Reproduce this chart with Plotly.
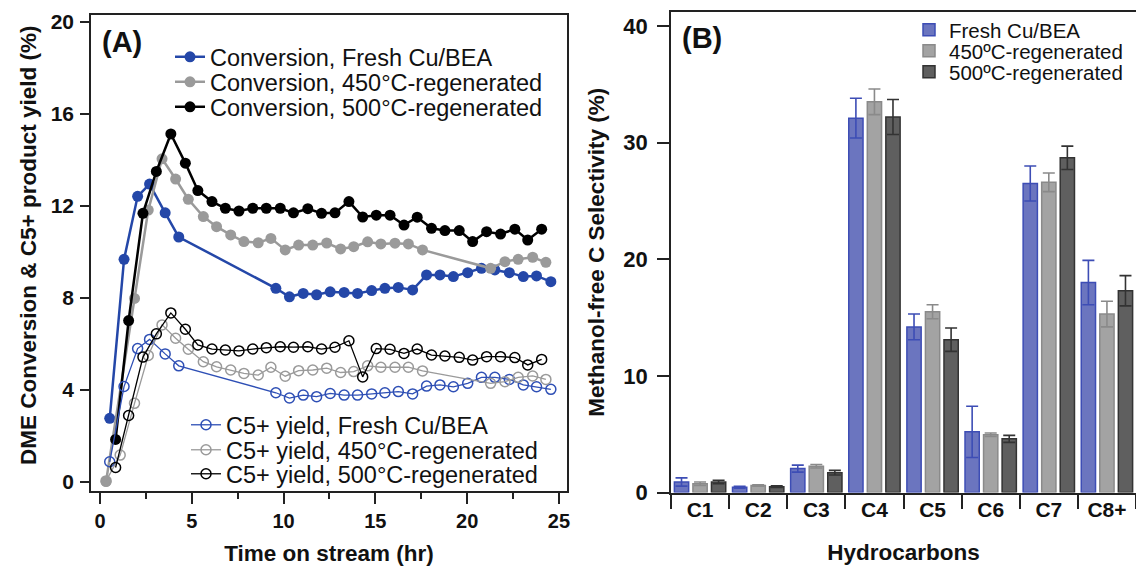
import plotly.graph_objects as go

W, H = 1136, 568
FONT = "Liberation Sans, Arial, Helvetica, sans-serif"

# ---------------- Panel A data ----------------
t_fresh = [0.53, 1.31, 2.05, 2.70, 3.55, 4.29, 9.58, 10.32, 11.07, 11.80, 12.54, 13.30, 14.03,
           14.80, 15.52, 16.25, 17.03, 17.79, 18.52, 19.25, 20.03, 20.78, 21.51, 22.30, 23.06,
           23.78, 24.56]
conv_fresh = [2.77, 9.68, 12.42, 12.95, 11.70, 10.65, 8.42, 8.05, 8.20, 8.14, 8.27, 8.24, 8.20,
              8.32, 8.42, 8.46, 8.35, 9.00, 9.00, 8.93, 9.10, 9.29, 9.22, 9.10, 8.93, 8.96, 8.71]
c5_fresh = [0.88, 4.15, 5.80, 6.20, 5.57, 5.05, 3.88, 3.65, 3.78, 3.71, 3.85, 3.78, 3.78,
            3.83, 3.88, 3.93, 3.83, 4.17, 4.22, 4.14, 4.29, 4.55, 4.55, 4.46, 4.22, 4.14, 4.03]

t_450 = [0.33, 1.10, 1.88, 2.63, 3.38, 4.12, 4.81, 5.63, 6.35, 7.12, 7.84, 8.62, 9.31, 10.09,
         10.82, 11.59, 12.35, 13.11, 13.82, 14.58, 15.30, 16.07, 16.80, 17.57, 21.28, 22.06,
         22.78, 23.57, 24.29]
conv_450 = [0.02, None, 7.98, 11.82, 14.05, 13.17, 12.29, 11.54, 11.10, 10.74, 10.45, 10.40,
            10.59, 10.09, 10.30, 10.30, 10.39, 10.13, 10.23, 10.44, 10.35, 10.38, 10.35, 10.09,
            9.29, 9.58, 9.68, 9.77, 9.55]
c5_450 = [0.05, 1.17, 3.42, 5.50, 6.83, 6.25, 5.77, 5.23, 5.01, 4.87, 4.72, 4.65, 4.99, 4.60,
          4.84, 4.87, 4.95, 4.76, 4.80, 5.05, 4.99, 4.99, 4.99, 4.83, 4.29, 4.36, 4.55, 4.61, 4.46]

t_500 = [0.85, 1.56, 2.34, 3.07, 3.86, 4.65, 5.33, 6.10, 6.83, 7.57, 8.32, 9.06, 9.82, 10.54,
         11.32, 12.07, 12.80, 13.56, 14.31, 15.05, 15.80, 16.56, 17.28, 18.06, 18.79, 19.57,
         20.30, 21.06, 21.82, 22.60, 23.30, 24.06]
conv_500 = [1.85, 7.02, 11.68, 13.50, 15.13, 13.86, 12.67, 12.19, 11.90, 11.78, 11.90, 11.90,
            11.90, 11.70, 11.88, 11.68, 11.70, 12.19, 11.52, 11.60, 11.60, 11.17, 11.51, 11.03,
            10.93, 10.93, 10.45, 10.88, 10.78, 10.99, 10.52, 10.99]
c5_500 = [0.63, 2.89, 5.43, 6.44, 7.35, 6.64, 5.96, 5.78, 5.74, 5.70, 5.78, 5.84, 5.88, 5.86,
          5.88, 5.78, 5.86, 6.14, 4.57, 5.80, 5.77, 5.59, 5.78, 5.52, 5.48, 5.42, 5.30, 5.45,
          5.45, 5.41, 5.09, 5.33]

# ---------------- Panel B data ----------------
cats = ["C1", "C2", "C3", "C4", "C5", "C6", "C7", "C8+"]
sel_fresh = [0.90, 0.45, 2.05, 32.1, 14.2, 5.2, 26.5, 18.0]
err_fresh = [0.35, 0.08, 0.30, 1.7, 1.1, 2.2, 1.5, 1.9]
sel_450 = [0.75, 0.60, 2.25, 33.5, 15.5, 4.95, 26.6, 15.3]
err_450 = [0.15, 0.07, 0.15, 1.1, 0.6, 0.15, 0.8, 1.1]
sel_500 = [0.90, 0.50, 1.70, 32.2, 13.1, 4.6, 28.7, 17.3]
err_500 = [0.15, 0.07, 0.20, 1.5, 1.0, 0.3, 1.0, 1.3]

BLUE = "#2447a8"
BLUE_O = "#2e4fb5"
GRAY = "#9a9a9a"
BLACK = "#000000"

fig = go.Figure()

conv_series = [
    ("Conversion, Fresh Cu/BEA", t_fresh, conv_fresh, BLUE, "legend"),
    ("Conversion, 450°C-regenerated", t_450, conv_450, GRAY, "legend2"),
    ("Conversion, 500°C-regenerated", t_500, conv_500, BLACK, "legend3"),
]
for name, t, v, c, lg in conv_series:
    fig.add_trace(go.Scatter(
        x=t, y=v, name=name, mode="lines+markers", connectgaps=True,
        line=dict(color=c, width=2.5), marker=dict(color=c, size=11),
        xaxis="x", yaxis="y", legend=lg))

c5_series = [
    ("C5+ yield, Fresh Cu/BEA", t_fresh, c5_fresh, BLUE_O, "legend4"),
    ("C5+ yield, 450°C-regenerated", t_450, c5_450, GRAY, "legend5"),
    ("C5+ yield, 500°C-regenerated", t_500, c5_500, BLACK, "legend6"),
]
for name, t, v, c, lg in c5_series:
    fig.add_trace(go.Scatter(
        x=t, y=v, name=name, mode="lines+markers",
        line=dict(color=c, width=1.3),
        marker=dict(symbol="circle-open", color=c, size=10, line=dict(width=1.5, color=c)),
        xaxis="x", yaxis="y", legend=lg))

bar_series = [
    ("Fresh Cu/BEA", sel_fresh, err_fresh, "#6b75bf", "#3d4db5", "legend7"),
    ("450ºC-regenerated", sel_450, err_450, "#a3a3a3", "#8a8a8a", "legend8"),
    ("500ºC-regenerated", sel_500, err_500, "#5f5f5f", "#333333", "legend9"),
]
for name, v, e, fc, lc, lg in bar_series:
    fig.add_trace(go.Bar(
        x=cats, y=v, name=name,
        marker=dict(color=fc, line=dict(color=lc, width=1.5)),
        error_y=dict(type="data", array=e, color=lc, thickness=1.6, width=6),
        xaxis="x2", yaxis="y2", legend=lg))

tick_a = dict(family=FONT, size=20, color="#111", weight="bold")
title_font = dict(family=FONT, size=22.5, color="#111", weight="bold")
AX = "#222"

legend_font_a = dict(family=FONT, size=23.5, color="#111")
legend_font_b = dict(family=FONT, size=20.5, color="#111")


def leg(xpx, ypx, font):
    return dict(x=xpx / W, y=1 - ypx / H, xref="container", yref="container",
                xanchor="left", yanchor="middle",
                bgcolor="rgba(0,0,0,0)", borderwidth=0, font=font,
                itemclick=False, itemdoubleclick=False)


fig.update_layout(
    template="none",
    width=W, height=H,
    margin=dict(l=0, r=0, t=0, b=0, pad=0, autoexpand=False),
    paper_bgcolor="white", plot_bgcolor="white",
    font=dict(family=FONT, color="#111"),
    showlegend=True,
    barmode="group", bargap=0.043, bargroupgap=0.23,
    legend=leg(170, 57, legend_font_a),
    legend2=leg(170, 82, legend_font_a),
    legend3=leg(170, 107, legend_font_a),
    legend4=leg(186, 425, legend_font_a),
    legend5=leg(186, 450, legend_font_a),
    legend6=leg(186, 474, legend_font_a),
    legend7=leg(909, 30, legend_font_b),
    legend8=leg(909, 51, legend_font_b),
    legend9=leg(909, 72, legend_font_b),
    xaxis=dict(
        domain=[91 / W, 567 / W], range=[-0.49, 25.44], automargin=False,
        tickvals=[0, 5, 10, 15, 20, 25], ticks="outside", ticklen=11, tickwidth=1.5,
        tickcolor=AX, minor=dict(dtick=2.5, tick0=0, ticks="outside", ticklen=6,
                                 tickwidth=1.5, tickcolor=AX),
        showline=True, linecolor=AX, linewidth=1.5, mirror=True,
        showgrid=False, zeroline=False, tickfont=tick_a,
        title=dict(text="Time on stream (hr)", font=title_font, standoff=14),
        anchor="y"),
    yaxis=dict(
        domain=[1 - 491 / H, 1 - 15 / H], range=[-0.39, 20.3], automargin=False,
        tickvals=[0, 4, 8, 12, 16, 20], ticks="outside", ticklen=9, tickwidth=1.5,
        tickcolor=AX, showline=True, linecolor=AX, linewidth=1.5, mirror=True,
        showgrid=False, zeroline=False, tickfont=dict(tick_a, size=21),
        ticklabelstandoff=2,
        anchor="x"),
    xaxis2=dict(
        domain=[671 / W, 1.0], type="category", range=[-0.5, 7.5], automargin=False,
        ticks="outside", tickson="boundaries", ticklen=15, tickwidth=1.5, tickcolor=AX,
        ticklabelstandoff=-2,
        showline=True, linecolor=AX, linewidth=1.5, mirror=True,
        showgrid=False, zeroline=False, tickfont=dict(tick_a, size=21),
        title=dict(text="Hydrocarbons", font=title_font, standoff=24),
        anchor="y2"),
    yaxis2=dict(
        domain=[1 - 492.5 / H, 1 - 12 / H], range=[0, 41.2], automargin=False,
        tickvals=[0, 10, 20, 30, 40], ticks="outside", ticklen=12, tickwidth=1.5,
        tickcolor=AX, showline=True, linecolor=AX, linewidth=1.5,
        showgrid=False, zeroline=False, tickfont=dict(tick_a, size=22),
        ticklabelstandoff=5,
        title=dict(text="Methanol-free C Selectivity (%)", font=title_font, standoff=12),
        anchor="x2"),
    annotations=[
        dict(text="DME Conversion & C5+ product yield (%)", xref="paper", yref="paper",
             x=28 / W, y=1 - 246 / H, xanchor="center", yanchor="middle", textangle=-90,
             showarrow=False, font=title_font),
        dict(text="(A)", xref="paper", yref="paper", x=100 / W, y=1 - 42 / H,
             xanchor="left", yanchor="middle", showarrow=False,
             font=dict(family=FONT, size=29, color="#111", weight="bold")),
        dict(text="(B)", xref="paper", yref="paper", x=680 / W, y=1 - 38 / H,
             xanchor="left", yanchor="middle", showarrow=False,
             font=dict(family=FONT, size=29, color="#111", weight="bold")),
    ],
)

fig.write_html("out.html")
